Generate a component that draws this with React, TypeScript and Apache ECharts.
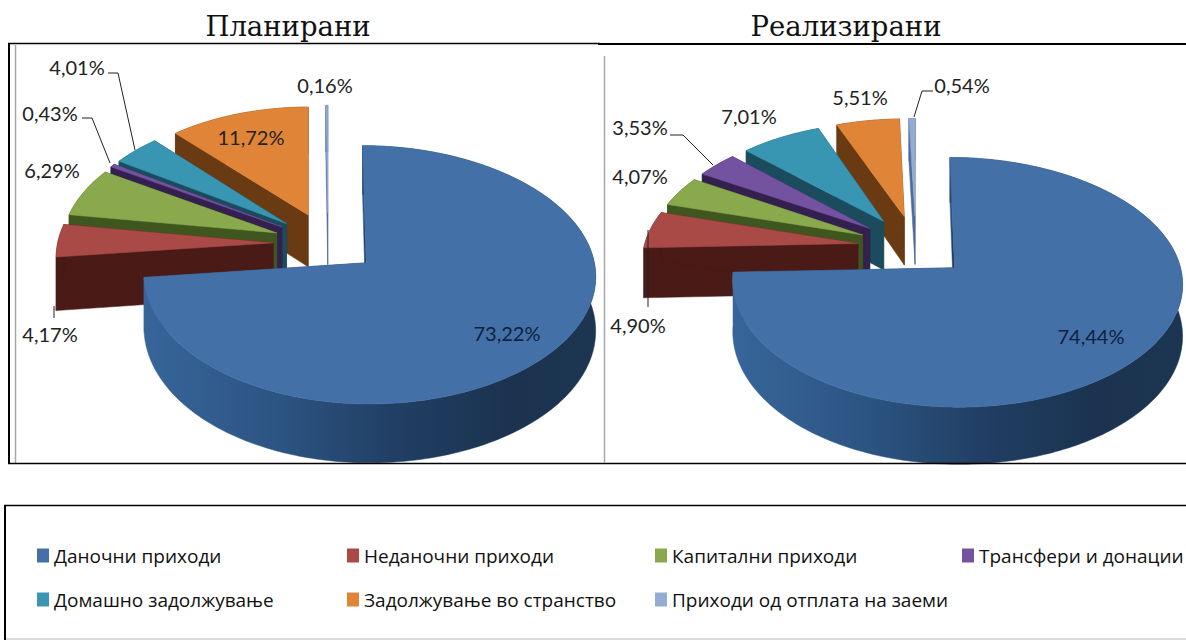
import React, { useEffect, useRef } from "react";
import * as echarts from "echarts";

const categories = [
  "Даночни приходи",
  "Неданочни приходи",
  "Капитални приходи",
  "Трансфери и донации",
  "Домашно задолжување",
  "Задолжување во странство",
  "Приходи од отплата на заеми",
];
const plannedValues = [73.22, 4.17, 6.29, 0.43, 4.01, 11.72, 0.16];
const realizedValues = [74.44, 4.9, 4.07, 3.53, 7.01, 5.51, 0.54];
const titles = ["Планирани", "Реализирани"];

const topColors = ["#4371a7", "#a94a47", "#8aa94d", "#7352a0", "#3996b2", "#e08537", "#94acd2"];
const wallColors = ["#24466d", "#4a1a16", "#40561f", "#33204f", "#1b4c5e", "#6a3a12", "#4f6b9c"];
const drawOrder = [5, 6, 4, 3, 2, 1, 0];

const LABEL_FONT = "Lato, 'Open Sans', sans-serif";
const LEGEND_FONT = "'Open Sans', sans-serif";

const pies = [
  { values: plannedValues, cx: 328, cy: 243.5, rx: 220.5, ry: 125.5, k: 0.0955, q: 0.015, eMain: 0.228, e: 0.25, d: 53 },
  { values: realizedValues, cx: 916, cy: 247.4, rx: 218, ry: 120, k: 0.121, q: 0.012, eMain: 0.24, e: 0.27, d: 50 },
];

// label layout (centre of each text) per pie, in category order
const labelSpots = [
  [[507, 333], [50, 334], [52, 170], [50, 113], [77, 67], [251, 137], [325, 85]],
  [[1091, 336], [638, 325], [640, 176], [640, 127], [749, 116], [860, 97], [962, 85]],
];
const leaderLines = [
  [
    [[54, 306], [54, 318]],
    [[82, 118], [92, 118], [110, 163]],
    [[108, 73], [118, 73], [135, 150]],
  ],
  [
    [[648, 230], [648, 307]],
    [[670, 135], [683, 135], [713, 165]],
    [[933, 91], [922, 91], [914, 117]],
  ],
];
const legendCols = [37, 347, 655, 962];
const legendRows = [546, 590];
const legendSlots = [
  [0, 0], [1, 0], [2, 0], [3, 0],
  [0, 1], [1, 1], [2, 1],
];

const fmt = (v: number) => v.toFixed(2).replace(".", ",") + "%";

function sliceRender(pieIdx: number, sliceIdx: number) {
  return (_params: any, api: any) => {
    const p = pies[pieIdx];
    const value = api.value(0);
    const total = p.values.reduce((a, b) => a + b, 0);
    const before = p.values.slice(0, sliceIdx).reduce((a, b) => a + b, 0);
    const a0 = (before / total) * Math.PI * 2;
    const a1 = ((before + value) / total) * Math.PI * 2;
    const mid = (a0 + a1) / 2;
    const e = sliceIdx === 0 ? p.eMain : p.e;
    const ox = e * Math.sin(mid);
    const oy = -e * Math.cos(mid);
    const project = (u: number, v: number, dz: number) => {
      const s = 1 + p.k * v;
      return [p.cx + p.rx * (u + p.q * u * u) * s, p.cy + p.ry * v * s + p.d * s * dz];
    };
    const steps = Math.max(2, Math.ceil((a1 - a0) / (Math.PI / 180)));
    const arc: number[][] = [];
    for (let i = 0; i <= steps; i++) {
      const t = a0 + ((a1 - a0) * i) / steps;
      arc.push([ox + Math.sin(t), oy - Math.cos(t)]);
    }
    const apex = [ox, oy];
    const radialWall = (edge: number[]) => [
      project(apex[0], apex[1], 0),
      project(edge[0], edge[1], 0),
      project(edge[0], edge[1], 1),
      project(apex[0], apex[1], 1),
    ];
    const arcWall = [
      ...arc.map((q) => project(q[0], q[1], 0)),
      ...arc.slice().reverse().map((q) => project(q[0], q[1], 1)),
    ];
    const top = [project(apex[0], apex[1], 0), ...arc.map((q) => project(q[0], q[1], 0))];
    const wallFill: any =
      sliceIdx === 0
        ? {
            type: "linear", x: 0, y: 0, x2: 1, y2: 0,
            colorStops: [
              { offset: 0, color: "#37659a" },
              { offset: 0.3, color: "#2c5482" },
              { offset: 0.55, color: "#213f64" },
              { offset: 0.8, color: "#1b3350" },
              { offset: 1, color: "#1c3550" },
            ],
          }
        : wallColors[sliceIdx];
    const wall = (points: number[][]) => ({
      type: "polygon",
      shape: { points },
      style: { fill: wallFill, stroke: wallFill, lineWidth: 0.5 },
    });
    return {
      type: "group",
      children: [
        wall(radialWall(arc[0])),
        wall(radialWall(arc[arc.length - 1])),
        wall(arcWall),
        {
          type: "polygon",
          shape: { points: top },
          style: { fill: topColors[sliceIdx], stroke: topColors[sliceIdx], lineWidth: 0.5 },
        },
      ],
    };
  };
}

function buildSeries() {
  const out: any[] = [];
  pies.forEach((p, pieIdx) => {
    drawOrder.forEach((sliceIdx) => {
      out.push({
        type: "custom",
        name: categories[sliceIdx],
        coordinateSystem: "none",
        renderItem: sliceRender(pieIdx, sliceIdx),
        itemStyle: { color: topColors[sliceIdx] },
        silent: true,
        data: [[p.values[sliceIdx]]],
      });
    });
  });
  return out;
}

function buildGraphic() {
  const els: any[] = [];
  const line = (x1: number, y1: number, x2: number, y2: number, stroke: string, lineWidth: number) =>
    els.push({
      type: "line",
      z: 60,
      shape: { x1, y1, x2, y2 },
      style: { stroke, lineWidth },
    });
  // panel frames
  line(8, 43.5, 600, 43.5, "#000", 1.5);
  line(598, 44, 1186, 44, "#000", 2);
  line(9, 43, 9, 464, "#000", 2);
  line(15.5, 45, 15.5, 463, "#a8a8a8", 1.5);
  line(8, 463.5, 1186, 463.5, "#000", 1.5);
  line(604.5, 56, 604.5, 463, "#a8a8a8", 1.5);
  // legend frame
  line(4, 505.5, 1186, 505.5, "#000", 1.5);
  line(5, 505, 5, 640, "#000", 2);
  line(6, 639, 1186, 639, "#d0d0d0", 1.5);

  titles.forEach((t, i) => {
    els.push({
      type: "text",
      z: 60,
      x: [288, 846][i],
      y: 26,
      style: {
        text: t,
        fill: "#111",
        font: "27.5px 'DejaVu Serif', serif",
        align: "center",
        verticalAlign: "middle",
      },
    });
  });
  pies.forEach((p, pieIdx) => {
    p.values.forEach((v, i) => {
      const spot = labelSpots[pieIdx][i];
      els.push({
        type: "text",
        z: 70,
        x: spot[0],
        y: spot[1],
        style: {
          text: fmt(v),
          fill: i === 0 ? "#0e1f3f" : "#222",
          font: `20px ${LABEL_FONT}`,
          align: "center",
          verticalAlign: "middle",
        },
      });
    });
    leaderLines[pieIdx].forEach((pts) => {
      els.push({
        type: "polyline",
        z: 65,
        shape: { points: pts },
        style: { stroke: "#222", lineWidth: 1, fill: "none" },
      });
    });
  });
  return els;
}

function buildLegends() {
  return categories.map((name, i) => {
    const [c, r] = legendSlots[i];
    return {
      left: legendCols[c],
      top: legendRows[r],
      padding: 0,
      itemWidth: 12,
      itemHeight: 14,
      selectedMode: false,
      icon: "rect",
      data: [name],
      textStyle: { fontFamily: LEGEND_FONT, fontSize: 19, color: "#111" },
    };
  });
}

export default function App() {
  const ref = useRef<HTMLDivElement>(null);
  useEffect(() => {
    const chart = echarts.init(ref.current!, undefined, { renderer: "svg" });
    chart.setOption({
      animation: false,
      backgroundColor: "#fff",
      legend: buildLegends(),
      series: buildSeries(),
      graphic: { elements: buildGraphic() },
    });
    return () => chart.dispose();
  }, []);
  return (
    <div
      ref={ref}
      style={{ position: "fixed", left: 0, top: 0, width: 1186, height: 640, overflow: "hidden" }}
    />
  );
}
